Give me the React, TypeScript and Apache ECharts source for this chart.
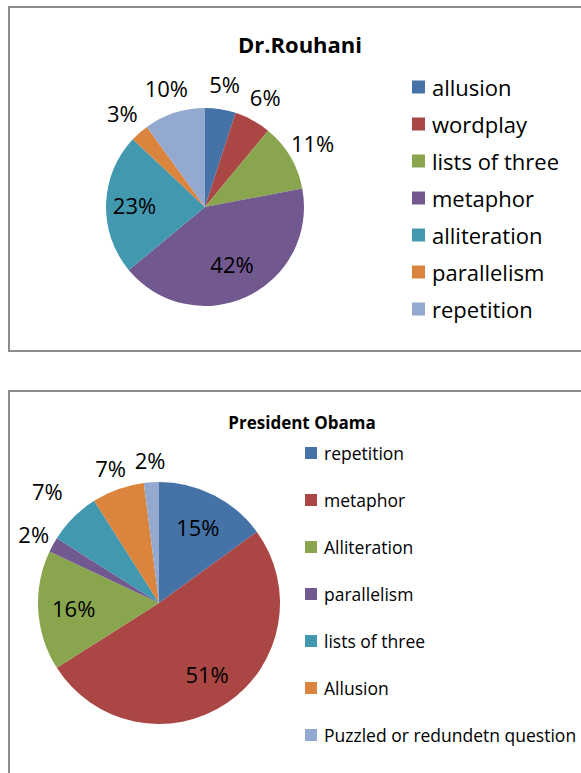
import React, { useEffect, useRef } from "react";
import * as echarts from "echarts";

const rouhaniTitle = "Dr.Rouhani";
const rouhaniCategories = ["allusion", "wordplay", "lists of three", "metaphor", "alliteration", "parallelism", "repetition"];
const rouhaniValues = [5, 6, 11, 42, 23, 3, 10];

const obamaTitle = "President Obama";
const obamaCategories = ["repetition", "metaphor", "Alliteration", "parallelism", "lists of three", "Allusion", "Puzzled or redundetn question"];
const obamaValues = [15, 51, 16, 2, 7, 7, 2];

const palette = ["#4572A7", "#AA4643", "#89A54E", "#71588F", "#4198AF", "#DB843D", "#93A9CF"];
const FONT = "'Open Sans', sans-serif";

type LabelGroup = { names: string[]; radius: [number, number] };

function buildOption(cfg: {
  title: string;
  titleX: number;
  titleY: number;
  titleSize: number;
  categories: string[];
  values: number[];
  center: [number, number];
  r: number;
  labelSize: number;
  groups: LabelGroup[];
  legendLeft: number;
  legendTop: number;
  legendSize: number;
  legendLH: number;
  legendGap: number;
  legendIcon: number;
  border: { x: number; y: number; w: number; h: number };
}) {
  const data = cfg.categories.map((n, i) => ({ name: n, value: cfg.values[i], itemStyle: { color: palette[i] } }));
  const labelSeries = cfg.groups.map((g) => ({
    type: "pie",
    silent: true,
    center: cfg.center,
    radius: g.radius,
    startAngle: 90,
    clockwise: true,
    legendHoverLink: false,
    emphasis: { disabled: true },
    labelLine: { show: false },
    itemStyle: { color: "rgba(0,0,0,0)", borderWidth: 0 },
    data: cfg.categories.map((n, i) => ({
      name: n,
      value: cfg.values[i],
      itemStyle: { color: "rgba(0,0,0,0)" },
      label: {
        show: g.names.includes(n),
        position: "inside",
        rotate: 0,
        color: "#000",
        fontFamily: FONT,
        fontSize: cfg.labelSize,
        formatter: (p: any) => Math.round(p.value) + "%",
      },
    })),
  }));
  return {
    animation: false,
    backgroundColor: "#fff",
    graphic: [
      {
        type: "rect",
        shape: { x: cfg.border.x, y: cfg.border.y, width: cfg.border.w, height: cfg.border.h },
        style: { fill: "none", stroke: "#8c8c8c", lineWidth: 2 },
        silent: true,
      },
      {
        type: "text",
        x: cfg.titleX,
        y: cfg.titleY,
        style: {
          text: cfg.title,
          fontFamily: FONT,
          fontWeight: "bold",
          fontSize: cfg.titleSize,
          fill: "#000",
          textAlign: "center",
          textVerticalAlign: "middle",
        },
      },
    ],
    legend: {
      orient: "vertical",
      left: cfg.legendLeft,
      top: cfg.legendTop,
      icon: "rect",
      itemWidth: cfg.legendIcon,
      itemHeight: cfg.legendIcon,
      itemGap: cfg.legendGap,
      padding: 0,
      selectedMode: false,
      data: cfg.categories,
      textStyle: {
        fontFamily: FONT,
        fontSize: cfg.legendSize,
        lineHeight: cfg.legendLH,
        color: "#000",
        padding: [0, 0, 0, 2],
      },
    },
    series: [
      {
        type: "pie",
        center: cfg.center,
        radius: [0, cfg.r],
        startAngle: 90,
        clockwise: true,
        label: { show: false },
        labelLine: { show: false },
        itemStyle: { borderWidth: 0 },
        emphasis: { disabled: true },
        data,
      },
      ...labelSeries,
    ],
  };
}

function Chart({ option, style }: { option: any; style: React.CSSProperties }) {
  const ref = useRef<HTMLDivElement>(null);
  useEffect(() => {
    if (!ref.current) return;
    const chart = echarts.init(ref.current, undefined, { renderer: "svg" });
    chart.setOption(option);
    return () => chart.dispose();
  }, [option]);
  return <div ref={ref} style={style} />;
}

const r1 = 99;
const option1 = buildOption({
  title: rouhaniTitle,
  titleX: 300,
  titleY: 44,
  titleSize: 22,
  categories: rouhaniCategories,
  values: rouhaniValues,
  center: [205, 207],
  r: r1,
  labelSize: 22,
  groups: [
    { names: ["alliteration"], radius: [36, r1] },
    { names: ["metaphor"], radius: [22, r1] },
    { names: ["allusion", "wordplay", "lists of three", "parallelism", "repetition"], radius: [r1 + 7, r1 + 39] },
  ],
  legendLeft: 412,
  legendTop: 75,
  legendSize: 22,
  legendLH: 24,
  legendGap: 13,
  legendIcon: 13,
  border: { x: 9, y: 7, w: 620, h: 344 },
});

const r2 = 121;
const option2 = buildOption({
  title: obamaTitle,
  titleX: 302,
  titleY: 42,
  titleSize: 17,
  categories: obamaCategories,
  values: obamaValues,
  center: [159, 223],
  r: r2,
  labelSize: 22,
  groups: [
    { names: ["repetition", "metaphor", "Alliteration"], radius: [44, r2] },
    { names: ["parallelism", "Allusion", "Puzzled or redundetn question"], radius: [r2 + 3, r2 + 35] },
    { names: ["lists of three"], radius: [r2 + 18, r2 + 50] },
  ],
  legendLeft: 305,
  legendTop: 63,
  legendSize: 17.5,
  legendLH: 20,
  legendGap: 27,
  legendIcon: 12,
  border: { x: 9, y: 11, w: 620, h: 500 },
});

export default function App() {
  return (
    <div style={{ position: "fixed", left: 0, top: 0, width: 581, height: 773, background: "#fff", overflow: "hidden" }}>
      <Chart option={option1} style={{ position: "absolute", left: 0, top: 0, width: 581, height: 380 }} />
      <Chart option={option2} style={{ position: "absolute", left: 0, top: 380, width: 581, height: 393 }} />
    </div>
  );
}
